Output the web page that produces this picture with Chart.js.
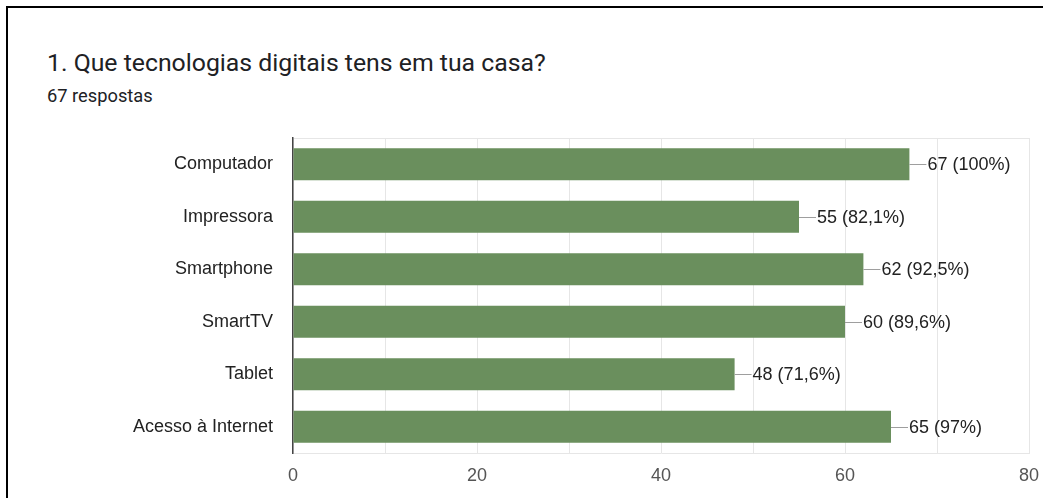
<!DOCTYPE html>
<html>
<head>
<meta charset="utf-8">
<script src="https://cdn.jsdelivr.net/npm/chart.js@4/dist/chart.umd.min.js"></script>
<style>
  html, body { margin: 0; padding: 0; background: #fff; }
  body { width: 1043px; height: 498px; position: relative; overflow: hidden; }
  #frame {
    position: absolute; left: 6px; top: 6px; width: 1100px; height: 600px;
    border-top: 2px solid #000; border-left: 2px solid #000;
  }
  #titulo {
    position: absolute; left: 47px; top: 48px; margin: 0;
    font: 400 24.8px Roboto, sans-serif; color: #202124; white-space: nowrap;
  }
  #respostas {
    position: absolute; left: 47px; top: 85px; margin: 0;
    font: 400 18.3px Roboto, sans-serif; color: #202124;
  }
  #wrap { position: absolute; left: 0; top: 0; width: 1043px; height: 498px; }
</style>
</head>
<body>
<div id="frame"></div>
<p id="titulo">1. Que tecnologias digitais tens em tua casa?</p>
<p id="respostas">67 respostas</p>
<div id="wrap"><canvas id="grafico"></canvas></div>
<script>
const categorias = ['Computador', 'Impressora', 'Smartphone', 'SmartTV', 'Tablet', 'Acesso à Internet'];
const respostas = [67, 55, 62, 60, 48, 65];
const totalRespostas = 67;
const ticksX = [0, 20, 40, 60, 80];

const corBarra = '#6a8f5d';
const fonte = '"Liberation Sans", Arial, sans-serif';

// "55 (82,1%)"
function rotulo(v) {
  let pct = (v / totalRespostas * 100).toFixed(1);
  if (pct.endsWith('.0')) pct = pct.slice(0, -2);
  return `${v} (${pct.replace('.', ',')}%)`;
}

// Linha guia e valor à direita de cada barra
const rotulosBarras = {
  id: 'rotulosBarras',
  afterDatasetsDraw(chart) {
    const c = chart.ctx;
    const meta = chart.getDatasetMeta(0);
    c.save();
    c.font = `18px ${fonte}`;
    c.textBaseline = 'middle';
    c.textAlign = 'left';
    meta.data.forEach((bar, i) => {
      const y = Math.round(bar.y) + 0.5;
      c.strokeStyle = '#9e9e9e';
      c.lineWidth = 1;
      c.beginPath();
      c.moveTo(bar.x, y);
      c.lineTo(bar.x + 17, y);
      c.stroke();
      c.fillStyle = '#222';
      c.fillText(rotulo(respostas[i]), bar.x + 18, bar.y + 1);
    });
    c.restore();
  }
};

new Chart(document.getElementById('grafico'), {
  type: 'bar',
  data: {
    labels: categorias,
    datasets: [{
      data: respostas,
      backgroundColor: corBarra,
      borderWidth: 0,
      barPercentage: 0.61,
      categoryPercentage: 1
    }]
  },
  options: {
    indexAxis: 'y',
    responsive: true,
    maintainAspectRatio: false,
    animation: false,
    events: [],
    layout: { padding: { left: 0, right: 14, top: 138, bottom: 0 } },
    plugins: { legend: { display: false }, tooltip: { enabled: false } },
    scales: {
      x: {
        min: 0,
        max: 80,
        afterFit: s => {
          s.height = 45;
          s.paddingLeft = 0;
          s.paddingRight = 0;
        },
        afterBuildTicks: s => {
          s.ticks = [];
          for (let v = 0; v <= 80; v += 10) s.ticks.push({ value: v });
        },
        ticks: {
          autoSkip: false,
          maxRotation: 0,
          padding: 12,
          color: '#555',
          font: { family: fonte, size: 18 },
          callback: v => ticksX.includes(v) ? v : ''
        },
        grid: { color: '#e6e6e6', drawTicks: false },
        border: { color: '#e6e6e6' }
      },
      y: {
        afterFit: s => { s.width = 293; },
        ticks: {
          padding: 20,
          color: '#222',
          font: { family: fonte, size: 18 }
        },
        grid: {
          drawTicks: false,
          color: ctx => (ctx.index === 0 ? '#e6e6e6' : 'rgba(0,0,0,0)')
        },
        border: { color: '#444', width: 1.5 }
      }
    }
  },
  plugins: [rotulosBarras]
});
</script>
</body>
</html>
